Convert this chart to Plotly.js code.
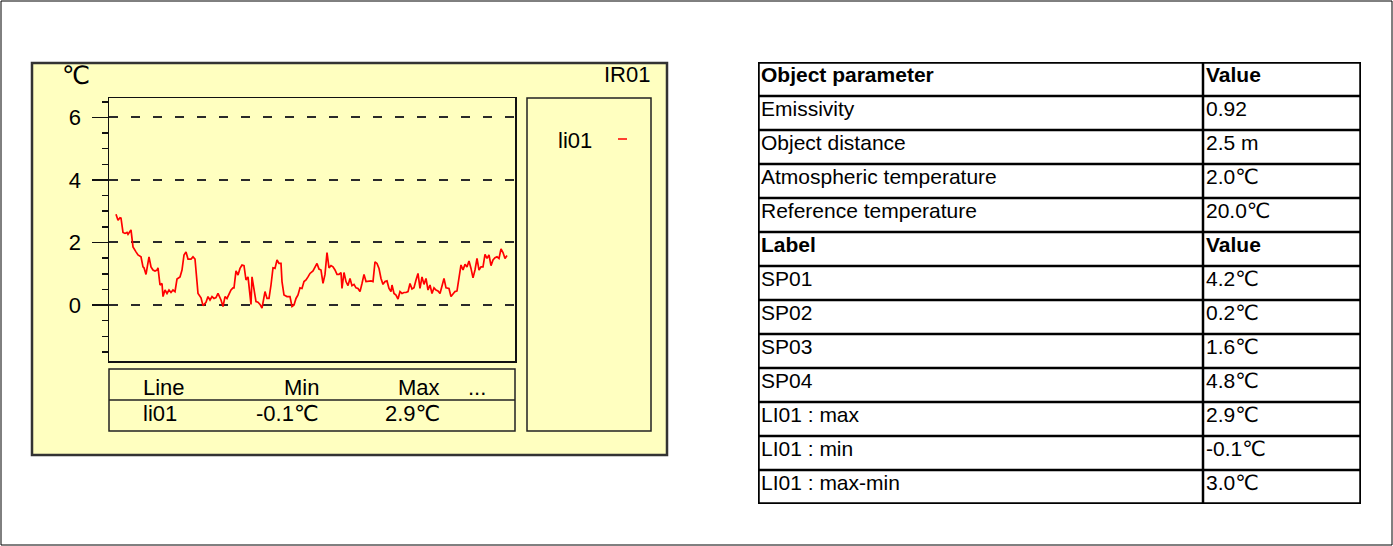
<!DOCTYPE html>
<html><head><meta charset="utf-8">
<script src="https://cdn.plot.ly/plotly-3.0.1.min.js"></script>
<style>html,body{margin:0;padding:0;background:#fff;} #chart{width:1393px;height:546px;}</style>
</head><body><div id="chart"></div>
<script>
// ---------------- data ----------------
const lineName = 'li01';
const sampleIndex = [0,2,4,5,7,9,11,12,15,17,20,22,25,27,28,30,33,35,37,39,41,42,44,46,47,49,51,53,55,57,59,61,64,66,68,70,72,75,77,79,81,82,85,87,90,92,94,96,98,100,102,105,107,109,111,113,115,117,118,120,122,124,126,128,130,132,133,135,136,138,140,142,144,146,147,149,151,153,155,157,159,161,163,165,166,168,171,174,176,178,180,182,184,186,188,190,192,194,197,199,201,203,205,207,209,211,213,215,217,219,221,223,225,226,228,230,232,234,236,238,240,242,244,246,248,250,253,255,257,259,261,263,265,267,269,271,273,275,276,278,280,282,284,286,288,290,292,294,296,298,300,302,304,306,308,310,312,314,316,318,320,322,324,326,328,330,333,335,337,339,341,343,345,347,349,351,353,355,357,359,361,363,365,367,369,371,373,375,377,379,381,383,385,387,389,391];
const li01Temp = [2.9,2.71,2.79,2.78,2.32,2.29,2.32,2.26,2.40,1.86,1.70,1.60,1.54,1.22,1.19,0.98,1.54,1.22,1.12,1.09,1.12,1.19,0.64,0.69,0.27,0.48,0.37,0.48,0.40,0.48,0.43,0.83,0.90,1.12,1.60,1.70,1.47,1.47,1.54,1.47,0.74,0.37,0.23,-0.02,0.09,0.27,0.16,0.27,0.21,0.24,0.37,0.16,-0.05,0.27,0.21,0.34,0.48,0.55,0.55,1.09,0.96,1.17,1.28,1.26,0.80,0.90,0.58,0.02,0.90,0.48,0.11,0.09,0.02,-0.1,0.11,0.43,0.21,0.21,0.64,1.19,1.17,1.44,1.33,1.33,0.75,0.32,0.27,0.27,-0.05,0.0,0.21,0.32,0.55,0.53,0.75,0.80,0.90,1.01,1.09,1.19,1.33,1.15,1.12,0.69,0.98,1.68,1.19,1.26,1.22,1.12,0.98,0.98,1.04,0.53,1.04,0.75,0.62,0.85,0.62,0.66,0.55,0.53,0.43,0.69,0.98,0.75,0.77,0.77,0.75,1.38,1.33,1.17,0.85,0.66,0.75,0.77,0.53,0.43,0.64,0.37,0.32,0.19,0.43,0.37,0.40,0.40,0.43,0.69,0.51,0.55,0.80,1.01,0.53,0.90,0.66,0.85,0.48,0.64,0.37,0.55,0.48,0.45,0.37,0.58,0.85,0.55,0.53,0.27,0.34,0.43,0.45,0.96,1.28,1.12,1.30,1.22,1.41,1.17,0.87,1.12,1.49,1.12,1.22,1.22,1.62,1.49,1.60,1.26,1.44,1.51,1.54,1.49,1.79,1.68,1.49,1.58];

const yTickVals = [0, 2, 4, 6];
const yTickText = ['0', '2', '4', '6'];
const unitLabel = '℃';
const imageLabel = 'IR01';

const statHeaders = ['Line', 'Min', 'Max', '...'];
const statRow = ['li01', '-0.1℃', '2.9℃', ''];

const paramLabels = ['Object parameter', 'Emissivity', 'Object distance', 'Atmospheric temperature', 'Reference temperature'];
const paramValues = ['Value', '0.92', '2.5 m', '2.0℃', '20.0℃'];
const measureLabels = ['Label', 'SP01', 'SP02', 'SP03', 'SP04', 'LI01 : max', 'LI01 : min', 'LI01 : max-min'];
const measureValues = ['Value', '4.2℃', '0.2℃', '1.6℃', '4.8℃', '2.9℃', '-0.1℃', '3.0℃'];

// ---------------- layout geometry ----------------
const W = 1393, H = 546;
const FONT = 'Liberation Sans, Arial, Helvetica, DejaVu Sans, sans-serif';
const fx = p => p / W, fy = p => 1 - p / H;

const PANEL = {x0: 32, y0: 63, x1: 667, y1: 455};
const PLOT = {x0: 109, y0: 98, x1: 515, y1: 361};
const STATS = {x0: 109, y0: 369, x1: 515, y1: 431, ySep: 400};
const LEG = {x0: 527, y0: 98, x1: 651, y1: 431};
const TBL = {x0: 758, y0: 62, x1: 1361, y1: 504, split: 1203};
const Y_RANGE = [-1.79, 6.62];
const X_RANGE = [-7, 399];

const shapes = [];
const annotations = [];
const rectPx = (r, line, fill, layer) => shapes.push({type: 'rect', xref: 'paper', yref: 'paper',
  x0: fx(r.x0), x1: fx(r.x1), y0: fy(r.y1), y1: fy(r.y0), line: line, fillcolor: fill || 'rgba(0,0,0,0)', layer: layer || 'above'});

// page border
rectPx({x0: 1, y0: 1, x1: 1392, y1: 545}, {color: '#000', width: 1}, null, 'below');
// yellow panel
rectPx(PANEL, {color: '#333', width: 2.5}, '#ffffc0', 'below');
// stats box
rectPx(STATS, {color: '#222', width: 1.5});
shapes.push({type: 'line', xref: 'paper', yref: 'paper', x0: fx(STATS.x0), x1: fx(STATS.x1), y0: fy(STATS.ySep), y1: fy(STATS.ySep), line: {color: '#222', width: 1.5}});
// legend box
rectPx(LEG, {color: '#222', width: 1.5});
shapes.push({type: 'line', xref: 'paper', yref: 'paper', x0: fx(618), x1: fx(627), y0: fy(139), y1: fy(139), line: {color: '#ff0000', width: 1.5}});

const txt = (text, xp, yp, xanchor, size) => annotations.push({
  text: text, xref: 'paper', yref: 'paper', x: fx(xp), y: fy(yp),
  xanchor: xanchor, yanchor: 'middle', showarrow: false, font: {family: FONT, size: size, color: '#000'}});

txt(unitLabel, 60, 75, 'left', 25);
txt(imageLabel, 652, 75, 'right', 22);
txt(lineName, 556, 141, 'left', 22);

// stats table inside panel
const statX = [[141, 'left'], [321, 'right'], [442, 'right'], [466, 'left']];
statHeaders.forEach((h, i) => txt(h, statX[i][0], 387, statX[i][1], 22));
statRow.forEach((h, i) => { if (h) txt(h, statX[i][0], 413, statX[i][1], 22); });

// right parameter table (own axes: x in px offset, y in rows)
const rowsL = paramLabels.concat(measureLabels);
const rowsV = paramValues.concat(measureValues);
const boldRows = [0, paramLabels.length];
const nRows = rowsL.length;
const splitOff = TBL.split - TBL.x0, tblW = TBL.x1 - TBL.x0;
for (let i = 1; i < nRows; i++) {
  shapes.push({type: 'line', xref: 'x3', yref: 'y3', x0: 0, x1: tblW, y0: i, y1: i, line: {color: '#000', width: 2.5}});
}
shapes.push({type: 'line', xref: 'x3', yref: 'y3', x0: splitOff, x1: splitOff, y0: 0, y1: nRows, line: {color: '#000', width: 2.5}});
shapes.push({type: 'rect', xref: 'x3', yref: 'y3', x0: 0, x1: tblW, y0: 0, y1: nRows, line: {color: '#000', width: 3.5}});
rowsL.forEach((t, i) => {
  const b = boldRows.includes(i);
  annotations.push({text: b ? '<b>' + t + '</b>' : t, xref: 'x3', yref: 'y3', x: 1, y: i + 0.36, xanchor: 'left', yanchor: 'middle',
    showarrow: false, font: {family: FONT, size: 21, color: '#000'}});
  annotations.push({text: b ? '<b>' + rowsV[i] + '</b>' : rowsV[i], xref: 'x3', yref: 'y3', x: splitOff + 1, y: i + 0.36, xanchor: 'left', yanchor: 'middle',
    showarrow: false, font: {family: FONT, size: 21, color: '#000'}});
});

const data = [
  {x: sampleIndex, y: li01Temp, type: 'scatter', mode: 'lines', name: lineName,
   line: {color: '#ff0000', width: 1.7}, xaxis: 'x', yaxis: 'y', showlegend: false, hoverinfo: 'skip'}
];

const layout = {
  width: W, height: H, margin: {l: 0, r: 0, t: 0, b: 0},
  paper_bgcolor: '#ffffff', plot_bgcolor: 'rgba(0,0,0,0)', showlegend: false,
  font: {family: FONT, size: 22, color: '#000'},
  xaxis: {domain: [fx(PLOT.x0), fx(PLOT.x1)], range: X_RANGE, showgrid: false, zeroline: false,
    showticklabels: false, ticks: '', showline: true, mirror: true, linecolor: '#111', linewidth: 1.5, fixedrange: true},
  yaxis: {domain: [fy(PLOT.y1), fy(PLOT.y0)], range: Y_RANGE, tickmode: 'array', tickvals: yTickVals, ticktext: yTickText,
    ticks: 'outside', ticklen: 16, tickwidth: 1.5, tickcolor: '#111', ticklabelstandoff: 6,
    tickfont: {family: FONT, size: 22, color: '#000'},
    showline: true, mirror: true, linecolor: '#111', linewidth: 1.5, zeroline: false,
    showgrid: true, gridcolor: '#2a2a2a', gridwidth: 2, griddash: '9px,13px',
    minor: {dtick: 0.5, tick0: 0, ticks: 'outside', ticklen: 6, tickwidth: 1.5, tickcolor: '#111', showgrid: false},
    fixedrange: true},
  yaxis2: {overlaying: 'y', anchor: 'x', side: 'left', range: Y_RANGE, dtick: 1, tick0: 0, ticks: 'outside', ticklen: 9,
    tickwidth: 1.5, tickcolor: '#111', showticklabels: false, showgrid: false, zeroline: false, showline: false, fixedrange: true},
  xaxis3: {domain: [fx(TBL.x0), fx(TBL.x1)], range: [0, tblW], visible: false, anchor: 'y3', fixedrange: true},
  yaxis3: {domain: [fy(TBL.y1), fy(TBL.y0)], range: [nRows, 0], visible: false, anchor: 'x3', fixedrange: true},
  shapes: shapes,
  annotations: annotations
};

Plotly.newPlot('chart', data, layout, {displayModeBar: false, staticPlot: true});
</script>
</body></html>
